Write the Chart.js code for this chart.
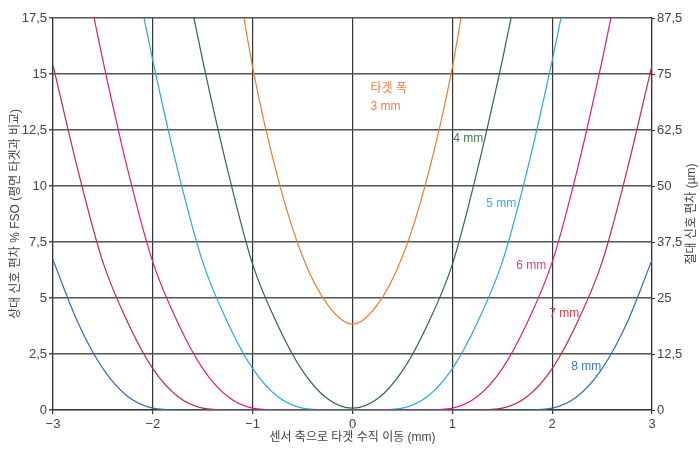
<!DOCTYPE html>
<html lang="ko">
<head>
<meta charset="utf-8">
<script src="https://cdn.jsdelivr.net/npm/chart.js@4.4.0/dist/chart.umd.min.js"></script>
<style>
  html, body { margin: 0; padding: 0; background: #fff; }
  canvas { display: block; }
</style>
</head>
<body>
<canvas id="chart" width="700" height="453"></canvas>
<script>
// target movement along the sensor axis (mm)
const xValues = [-3, -2.75, -2.5, -2.25, -2, -1.75, -1.5, -1.25, -1, -0.75, -0.5, -0.25, 0,
                 0.25, 0.5, 0.75, 1, 1.25, 1.5, 1.75, 2, 2.25, 2.5, 2.75, 3];

// relative signal deviation % FSO, one list per target width
const width3 = [null, null, null, null, null, null, null, 22, 15.3, 10.4, 6.85, 4.7, 3.83,
                4.7, 6.85, 10.4, 15.3, 22, null, null, null, null, null, null, null];
const width4 = [null, null, null, null, null, 21, 15.6, 10.7, 6.5, 3.8, 1.75, 0.5, 0.08,
                0.5, 1.75, 3.8, 6.5, 10.7, 15.6, 21, null, null, null, null, null];
const width5 = [null, null, null, 21, 15.6, 10.7, 6.6, 3.9, 1.85, 0.6, 0.08, 0, 0,
                0, 0.08, 0.6, 1.85, 3.9, 6.6, 10.7, 15.6, 21, null, null, null];
const width6 = [null, 21, 15.6, 10.7, 6.6, 3.9, 1.85, 0.6, 0.08, 0, 0, 0, 0,
                0, 0, 0, 0.08, 0.6, 1.85, 3.9, 6.6, 10.7, 15.6, 21, null];
const width7 = [15.4, 10.7, 6.6, 3.9, 1.85, 0.6, 0.08, 0, 0, 0, 0, 0, 0,
                0, 0, 0, 0, 0, 0.08, 0.6, 1.85, 3.9, 6.6, 10.7, 15.4];
const width8 = [6.7, 3.9, 1.85, 0.6, 0.08, 0, 0, 0, 0, 0, 0, 0, 0,
                0, 0, 0, 0, 0, 0, 0, 0.08, 0.6, 1.85, 3.9, 6.7];

// curve labels (text, and where they sit in data units)
const labelTexts = ["타겟 폭", "3 mm", "4 mm", "5 mm", "6 mm", "7 mm", "8 mm"];
const labelX = [0.18, 0.18, 1.01, 1.34, 1.64, 1.97, 2.19];
const labelY = [14.35, 13.55, 12.1, 9.2, 6.45, 4.3, 1.95];
const labelColors = ["#F0803F", "#F0803F", "#3F7A4E", "#35ACE2", "#E8388A", "#CF3A4B", "#3A76BE"];

const FONT = "'Liberation Sans', 'Noto Sans CJK KR', sans-serif";
const toPoints = (ys) => xValues.map((x, i) => ({ x: x, y: ys[i] }));
const comma = (v) => String(v).replace(".", ",");

const curveLabels = {
  id: "curveLabels",
  afterDatasetsDraw(chart) {
    const { ctx, scales } = chart;
    ctx.save();
    ctx.font = "12px " + FONT;
    ctx.textAlign = "left";
    ctx.textBaseline = "middle";
    labelTexts.forEach((t, i) => {
      ctx.fillStyle = labelColors[i];
      ctx.fillText(t, scales.x.getPixelForValue(labelX[i]), scales.y.getPixelForValue(labelY[i]));
    });
    // right axis title reads bottom to top
    const a = chart.chartArea;
    ctx.translate(692, (a.top + a.bottom) / 2);
    ctx.rotate(-Math.PI / 2);
    ctx.textAlign = "center";
    ctx.fillStyle = "#444";
    ctx.fillText("절대 신호 편차 (µm)", 0, 0);
    ctx.restore();
  }
};

const line = (label, ys, color) => ({
  label: label,
  data: toPoints(ys),
  borderColor: color,
  borderWidth: 1.2,
  pointRadius: 0,
  cubicInterpolationMode: "monotone",
  fill: false
});

new Chart(document.getElementById("chart").getContext("2d"), {
  type: "line",
  data: {
    datasets: [
      line("8 mm", width8, "#2C6DB8"),
      line("7 mm", width7, "#C42A3E"),
      line("6 mm", width6, "#E8197E"),
      line("5 mm", width5, "#27A9E1"),
      line("4 mm", width4, "#2D6A3D"),
      line("3 mm", width3, "#F07A35")
    ]
  },
  options: {
    responsive: false,
    animation: false,
    layout: { padding: { top: 18, left: 0, right: 0, bottom: 0 } },
    plugins: { legend: { display: false }, tooltip: { enabled: false } },
    scales: {
      x: {
        type: "linear",
        min: -3,
        max: 3,
        afterFit: (s) => { s.height = 43; },
        ticks: {
          stepSize: 1,
          color: "#444",
          padding: 3,
          font: { family: FONT, size: 13 },
          callback: (v) => (v < 0 ? "\u2212" + Math.abs(v) : String(v))
        },
        grid: { color: "#333", lineWidth: 1.2, tickLength: 4 },
        border: { color: "#333", width: 1.2 },
        title: {
          display: true,
          text: "센서 축으로 타겟 수직 이동 (mm)",
          color: "#444",
          font: { family: FONT, size: 12 },
          padding: { top: 0, bottom: 8 }
        }
      },
      y: {
        position: "left",
        min: 0,
        max: 17.5,
        afterFit: (s) => { s.width = 53; },
        ticks: {
          stepSize: 2.5,
          color: "#444",
          padding: 2,
          font: { family: FONT, size: 13 },
          callback: (v) => comma(v)
        },
        grid: { color: "#555", lineWidth: 1.5, tickLength: 4 },
        border: { color: "#333", width: 1.2 },
        title: {
          display: true,
          text: "상대 신호 편차 % FSO (평면 타겟과 비교)",
          color: "#444",
          font: { family: FONT, size: 12 },
          padding: { top: 8, bottom: 0 }
        }
      },
      y2: {
        position: "right",
        min: 0,
        max: 87.5,
        afterFit: (s) => { s.width = 48; },
        ticks: {
          stepSize: 12.5,
          color: "#444",
          padding: 2,
          font: { family: FONT, size: 13 },
          callback: (v) => comma(v)
        },
        grid: { drawOnChartArea: false, color: "#333", tickLength: 3 },
        border: { color: "#333", width: 1.2 }
      }
    }
  },
  plugins: [curveLabels]
});
</script>
</body>
</html>
